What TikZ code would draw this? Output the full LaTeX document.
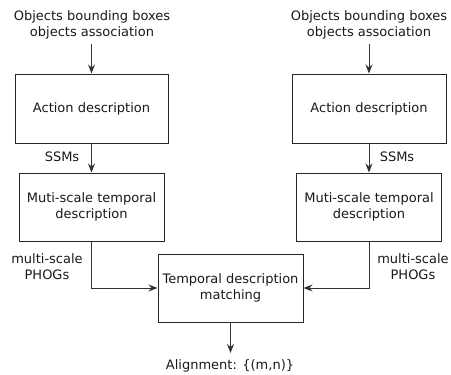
\documentclass[tikz,border=0pt]{standalone}
\usepackage{fontspec}
\setmainfont{DejaVu Sans}
\usetikzlibrary{arrows.meta}
\begin{document}
\begin{tikzpicture}[x=1pt,y=-1pt,
  box/.style={draw=black!85,line width=1pt,inner sep=0pt},
  lbl/.style={font=\fontsize{13}{16}\selectfont,text=black!90,align=center,inner sep=0pt},
  arr/.style={draw=black!80,line width=1pt,-{Stealth[length=9pt,width=7pt,inset=3pt]}}]
\useasboundingbox (0,0) rectangle (451,375);
% left column
\node[lbl] (inL) at (92,25) {Objects bounding boxes\\objects association};
\node[box,minimum width=153pt,minimum height=69pt] (actL) at (91.5,108.5) {};
\node[lbl] at (actL) {Action description};
\node[box,minimum width=145pt,minimum height=68pt] (mulL) at (91.5,207) {};
\node[lbl] at (mulL) {Muti-scale temporal\\description};
% right column
\node[lbl] (inR) at (369,25) {Objects bounding boxes\\objects association};
\node[box,minimum width=154pt,minimum height=69pt] (actR) at (369,108.5) {};
\node[lbl] at (actR) {Action description};
\node[box,minimum width=145pt,minimum height=68pt] (mulR) at (369,207) {};
\node[lbl] at (mulR) {Muti-scale temporal\\description};
% matching
\node[box,minimum width=145pt,minimum height=68pt] (mat) at (230.5,288) {};
\node[lbl] at (mat) {Temporal description\\matching};
\node[lbl] (out) at (230,366) {Alignment: \{(m,n)\}};
% labels
\node[lbl] at (62,157) {SSMs};
\node[lbl] at (397,157) {SSMs};
\node[lbl] at (47,266.5) {multi-scale\\PHOGs};
\node[lbl] at (413,266.5) {multi-scale\\PHOGs};
% connectors
\coordinate (tL) at (91.5,44);
\coordinate (tR) at (369,44);
\coordinate (bo) at (230.5,353);
\draw[arr] (tL) -- (actL.north);
\draw[arr] (tR) -- (actR.north);
\draw[arr] (actL.south) -- (mulL.north);
\draw[arr] (actR.south) -- (mulR.north);
\draw[arr] (mulL.south) |- (mat.west);
\draw[arr] (mulR.south) |- (mat.east);
\draw[arr] (mat.south) -- (bo);
\end{tikzpicture}
\end{document}
